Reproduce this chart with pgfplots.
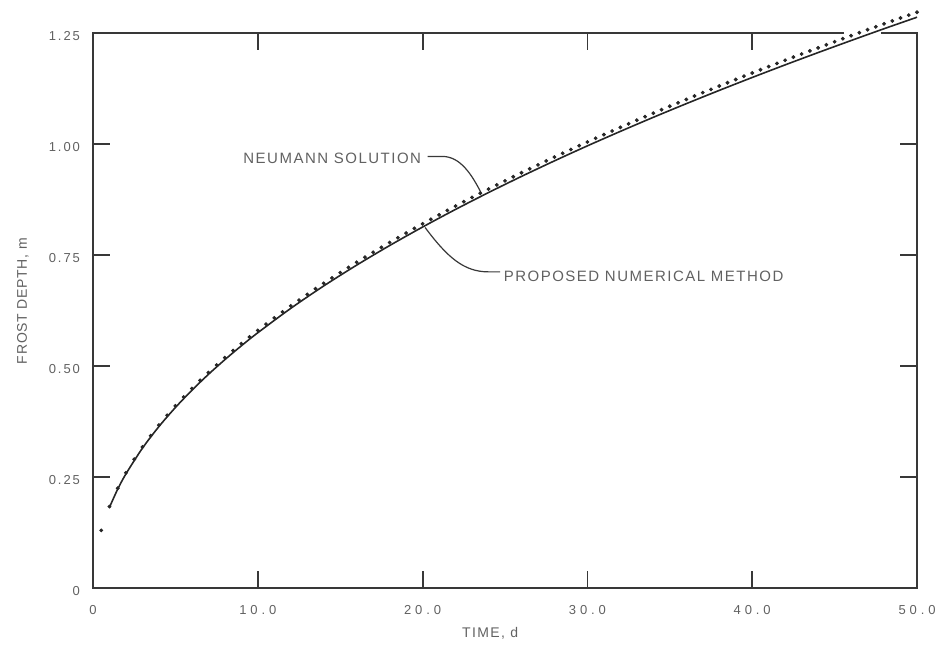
\documentclass[border=0pt]{standalone}
\usepackage{fontspec}
\setmainfont{Liberation Sans}[LetterSpace=10]
\newfontfamily\xtickfont{Liberation Sans}[LetterSpace=30]
\newfontfamily\ytickfont{Liberation Sans}[LetterSpace=15]
\newfontfamily\ylabfont{Liberation Sans}[LetterSpace=5]
\usepackage{pgfplots}
\pgfplotsset{compat=1.18}
\definecolor{txt}{gray}{0.38}
\definecolor{ln}{gray}{0.22}

\begin{document}
\begin{tikzpicture}
\path[use as bounding box] (-46.5pt,-32pt) rectangle (426.5pt,294pt);
\begin{axis}[
  scale only axis, width=412pt, height=277.5pt,
  xmin=0, xmax=50, ymin=0, ymax=1.25,
  clip=false,
  axis line style={ln, line width=1.3pt},
  tick style={ln, line width=0.9pt},
  major tick length=8.5pt,
  tick align=inside,
  xtick={0,10,20,30,40,50}, xticklabels={0,10.0,20.0,30.0,40.0,50.0},
  ytick={0,0.25,0.5,0.75,1,1.25}, yticklabels={0,0.25,0.50,0.75,1.00,1.25},
  xticklabel style={font=\xtickfont\fontsize{6.5}{8}\selectfont, text=txt, yshift=-5pt},
  yticklabel style={font=\ytickfont\fontsize{6.5}{8}\selectfont, text=txt, xshift=-3pt, yshift=-1.5pt},
  xlabel={TIME, d},
  ylabel={\ylabfont FROST DEPTH, m},
  xlabel style={font=\fontsize{7}{8}\selectfont, text=txt, at={(axis description cs:0.482,0)}, anchor=center, yshift=-22.5pt},
  ylabel style={font=\fontsize{7}{8}\selectfont, text=txt, at={(axis description cs:-0.085,0.517)}, anchor=center},
]
\draw[white, line width=3pt] (axis cs:45.6,1.25) -- (axis cs:47.8,1.25);
% Proposed numerical method (solid)
\addplot[black!85, line width=0.8pt, smooth] coordinates {
(1,0.1818) (1.5,0.2227) (2,0.2571) (3,0.3149) (4,0.3636) (5,0.4065)
(6,0.4453) (7,0.4810) (8,0.5142) (9,0.5454) (10,0.5749) (12,0.6298)
(14,0.6803) (16,0.7272) (18,0.7713) (20,0.8130) (22,0.8527) (24,0.8906)
(26,0.9270) (28,0.9620) (30,0.9958) (32,1.0284) (34,1.0601) (36,1.0908)
(38,1.1207) (40,1.1498) (42,1.1782) (44,1.2059) (46,1.2330) (48,1.2596)
(50,1.2855)};
% Neumann solution (dots)
\addplot[only marks, mark=*, mark size=0.75pt, black!85] coordinates {
(0.5,0.1297) (1.0,0.1834) (1.5,0.2246) (2.0,0.2594) (2.5,0.2900)
(3.0,0.3177) (3.5,0.3431) (4.0,0.3668) (4.5,0.3890) (5.0,0.4101)
(5.5,0.4301) (6.0,0.4492) (6.5,0.4676) (7.0,0.4852) (7.5,0.5023)
(8.0,0.5187) (8.5,0.5347) (9.0,0.5502) (9.5,0.5653) (10,0.5800)
(10.5,0.5943) (11,0.6083) (11.5,0.6219) (12,0.6353) (12.5,0.6484)
(13,0.6613) (13.5,0.6739) (14,0.6862) (14.5,0.6984) (15,0.7103)
(15.5,0.7220) (16,0.7336) (16.5,0.7450) (17,0.7562) (17.5,0.7672)
(18,0.7781) (18.5,0.7888) (19,0.7994) (19.5,0.8099) (20,0.8202)
(20.5,0.8304) (21,0.8404) (21.5,0.8504) (22,0.8602) (22.5,0.8700)
(23,0.8796) (23.5,0.8891) (24,0.8985) (24.5,0.9078) (25,0.9170)
(25.5,0.9261) (26,0.9352) (26.5,0.9441) (27,0.9530) (27.5,0.9618)
(28,0.9705) (28.5,0.9791) (29,0.9876) (29.5,0.9961) (30,1.0045)
(30.5,1.0129) (31,1.0211) (31.5,1.0293) (32,1.0375) (32.5,1.0455)
(33,1.0536) (33.5,1.0615) (34,1.0694) (34.5,1.0772) (35,1.0850)
(35.5,1.0927) (36,1.1004) (36.5,1.1080) (37,1.1156) (37.5,1.1231)
(38,1.1305) (38.5,1.1380) (39,1.1453) (39.5,1.1527) (40,1.1599)
(40.5,1.1672) (41,1.1743) (41.5,1.1815) (42,1.1886) (42.5,1.1956)
(43,1.2026) (43.5,1.2096) (44,1.2165) (44.5,1.2234) (45,1.2303)
(45.5,1.2371) (46,1.2439) (46.5,1.2506) (47,1.2573) (47.5,1.2640)
(48,1.2706) (48.5,1.2772) (49,1.2838) (49.5,1.2903) (50,1.2968)};
% annotations
\node[anchor=west, inner sep=0pt, text=txt, font=\fontsize{7.5}{9}\selectfont] at (axis cs:9.1,0.968) {NEUMANN SOLUTION};
\draw[ln, line width=0.6pt] (axis cs:20.3,0.972) -- (axis cs:21.2,0.972)
   .. controls (axis cs:22.3,0.972) and (axis cs:23.0,0.93) .. (axis cs:23.55,0.890);
\node[anchor=west, inner sep=0pt, text=txt, font=\fontsize{7.5}{9}\selectfont] at (axis cs:24.9,0.703) {PROPOSED NUMERICAL METHOD};
\draw[ln, line width=0.6pt] (axis cs:20.15,0.812)
   .. controls (axis cs:21.5,0.745) and (axis cs:22.5,0.712) .. (axis cs:24.0,0.712) -- (axis cs:24.7,0.712);
\end{axis}
\end{tikzpicture}
\end{document}
